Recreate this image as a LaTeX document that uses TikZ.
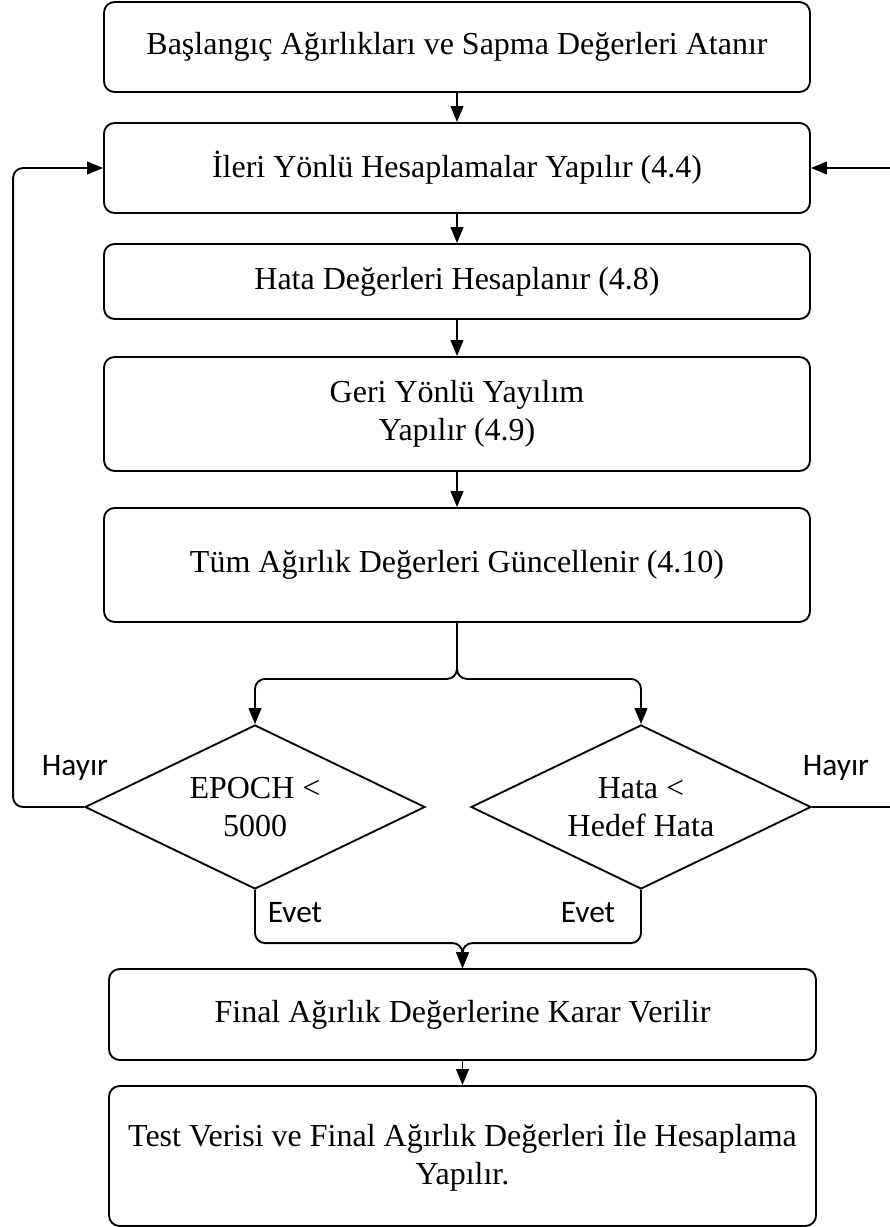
\documentclass[tikz,border=0pt]{standalone}
\usepackage{fontspec}
\setmainfont{Liberation Serif}
\newfontfamily\labelfont{Carlito}
\usetikzlibrary{arrows.meta,shapes.geometric,calc}

\begin{document}
\begin{tikzpicture}[
  x=0.75pt, y=-0.75pt,
  line width=1.4pt,
  font=\fontsize{24}{28.5}\selectfont,
  stepbox/.style={draw, rounded corners=8pt, align=center, inner sep=0pt},
  decision/.style={draw, diamond, aspect=2.07, inner sep=0pt,
    minimum width=255pt, minimum height=123pt, align=center},
  arr/.style={-{Triangle[length=12pt,width=9.5pt]}},
  flow/.style={arr, rounded corners=7.5pt},
  answer/.style={font=\labelfont\fontsize{23.5}{27}\selectfont, inner sep=0pt}
]
\useasboundingbox (0,0) rectangle (889,1227);

% process steps
\node[stepbox, minimum width=529.5pt, minimum height=67.5pt] (b1) at (457,47)
  {Başlangıç Ağırlıkları ve Sapma Değerleri Atanır};
\node[stepbox, minimum width=529.5pt, minimum height=67.5pt] (b2) at (457,168)
  {İleri Yönlü Hesaplamalar Yapılır (4.4)};
\node[stepbox, minimum width=529.5pt, minimum height=56.25pt] (b3) at (457,281.5)
  {Hata Değerleri Hesaplanır (4.8)};
\node[stepbox, minimum width=529.5pt, minimum height=85.5pt] (b4) at (457,414)
  {Geri Yönlü Yayılım\\ Yapılır (4.9)};
\node[stepbox, minimum width=529.5pt, minimum height=85.5pt] (b5) at (457,565)
  {Tüm Ağırlık Değerleri Güncellenir (4.10)};

% stopping tests
\node[decision] (d1) at (255,807) {EPOCH <\\5000};
\node[decision] (d2) at (641,807) {Hata <\\Hedef Hata};

% final steps
\node[stepbox, minimum width=530.25pt, minimum height=68.25pt] (b6) at (462.5,1014.5)
  {Final Ağırlık Değerlerine Karar Verilir};
\node[stepbox, minimum width=530.25pt, minimum height=105pt] (b7) at (462.5,1156)
  {Test Verisi ve Final Ağırlık Değerleri İle Hesaplama\\ Yapılır.};

% main sequence
\draw[arr] (b1) -- (b2);
\draw[arr] (b2) -- (b3);
\draw[arr] (b3) -- (b4);
\draw[arr] (b4) -- (b5);

% split into both tests
\coordinate (split) at ($(b5.south)+(0,56)$);
\draw[flow] (b5.south) -- (split) -| (d1.north);
\draw[flow] (b5.south) -- (split) -| (d2.north);

% loops back when a test fails
\draw[flow] (d1.west) -- ++(-71,0) |- (b2.west);
\draw[flow] (d2.east) -- ++(110,0) |- (b2.east);

% both tests lead to the final steps
\coordinate (merge) at ($(b6.north)+(0,-25)$);
\draw[flow] (d1.south) |- (merge) -- (b6.north);
\draw[flow] (d2.south) |- (merge) -- (b6.north);
\draw[arr] (b6) -- (b7);

% branch labels
\node[answer] (h1) at (75,768) {Hayır};
\node[answer] (h2) at (836,768) {Hayır};
\node[answer] (e1) at (295,913) {Evet};
\node[answer] (e2) at (588,913) {Evet};
\end{tikzpicture}
\end{document}
